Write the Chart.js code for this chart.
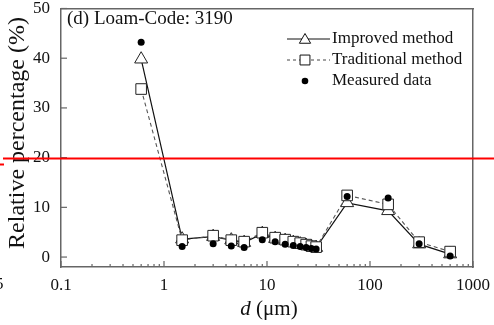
<!DOCTYPE html>
<html>
<head>
<meta charset="utf-8">
<script src="https://cdn.jsdelivr.net/npm/chart.js@4.4.0/dist/chart.umd.min.js"></script>
<style>
  html, body { margin: 0; padding: 0; background: #fff; }
  #wrap { position: relative; width: 494px; height: 325px; }
</style>
</head>
<body>
<div id="wrap"><canvas id="chart" width="494" height="325"></canvas></div>
<script>
// Particle size classes (µm)
const diameters = [0.6, 1.5, 3, 4.5, 6, 9, 12, 15, 18, 21, 24, 27, 30, 60, 150, 300, 600];
// Relative percentage (%)
const improved    = [39.8, 3.6, 4.1, 3.4, 2.9, 4.7, 3.7, 3.3, 2.9, 2.6, 2.3, 2.1, 1.9, 10.9, 9.3, 2.6, 0.6];
const traditional = [33.8, 3.4, 4.3, 3.4, 3.1, 4.9, 3.9, 3.5, 3.1, 2.8, 2.5, 2.2, 2.0, 12.4, 10.6, 3.0, 1.1];
const measured    = [43.2, 2.1, 2.7, 2.2, 1.9, 3.5, 3.1, 2.6, 2.3, 2.1, 1.9, 1.7, 1.6, 12.2, 11.9, 2.7, 0.2];

const yTicks = [0, 10, 20, 30, 40, 50];
const xDecades = [0.1, 1, 10, 100, 1000];
const refLineValue = 20;
const panelTitle = '(d) Loam-Code: 3190';
const legendNames = ['Improved method', 'Traditional method', 'Measured data'];
const yTitle = 'Relative percentage (%)';

const SERIF = '"Liberation Serif", "Times New Roman", serif';
const AXIS_COLOR = '#666666';

// minor + major tick values for the log axis
const xTickValues = [];
xDecades.forEach((dec, i) => {
    if (i === xDecades.length - 1) { xTickValues.push(dec); return; }
    for (let m = 1; m <= 9; m++) xTickValues.push(+(m * dec).toPrecision(3));
});
const isDecade = v => Math.abs(Math.log10(v) - Math.round(Math.log10(v))) < 1e-9;

const pts = arr => diameters.map((d, i) => ({ x: d, y: arr[i] }));

function marker(ctx, style, x, y, r) {
    ctx.beginPath();
    if (style === 'triangle') {
        ctx.moveTo(x, y - r);
        ctx.lineTo(x + r * 0.866, y + r * 0.5);
        ctx.lineTo(x - r * 0.866, y + r * 0.5);
        ctx.closePath();
        ctx.fillStyle = '#fff'; ctx.fill(); ctx.stroke();
    } else if (style === 'rect') {
        const s = r * Math.SQRT1_2;
        ctx.rect(x - s, y - s, 2 * s, 2 * s);
        ctx.fillStyle = '#fff'; ctx.fill(); ctx.stroke();
    } else {
        ctx.arc(x, y, r, 0, Math.PI * 2);
        ctx.fillStyle = '#000'; ctx.fill();
    }
}

// plain frame scale (top / right edges of the box)
function frameScale(position) {
    const horizontal = position === 'top';
    return {
        type: 'linear',
        position: position,
        min: 0,
        max: 1,
        grid: { display: false, drawTicks: false },
        ticks: { display: false },
        border: { display: true, color: AXIS_COLOR, width: 1.5 },
        afterFit(scale) {
            if (horizontal) { scale.height = 0; scale.paddingLeft = 0; scale.paddingRight = 0; }
            else { scale.width = 0; scale.paddingTop = 0; scale.paddingBottom = 0; }
        }
    };
}

const decorations = {
    id: 'decorations',
    afterDraw(chart) {
        const ctx = chart.ctx;
        const xs = chart.scales.x, ys = chart.scales.y;
        const x0 = xs.getPixelForValue(0.1);
        const y0 = ys.getPixelForValue(-2);
        ctx.save();

        // panel title
        ctx.fillStyle = '#111';
        ctx.font = '19px ' + SERIF;
        ctx.textBaseline = 'middle';
        ctx.textAlign = 'left';
        ctx.fillText(panelTitle, 67, 19);

        // inward tick marks
        ctx.fillStyle = AXIS_COLOR;
        xTickValues.forEach(v => {
            const px = xs.getPixelForValue(v);
            const len = isDecade(v) ? 6 : 3;
            ctx.fillRect(px - 0.6, y0 - len, 1.2, len);
        });
        yTicks.forEach(v => {
            const py = ys.getPixelForValue(v);
            ctx.fillRect(x0, py - 0.6, 6, 1.2);
        });

        // legend
        const lx0 = 287, lx1 = 330, mx = 305, tx = 332;
        const rows = [39, 60, 81];
        ctx.strokeStyle = '#111';
        ctx.lineWidth = 1;
        ctx.beginPath(); ctx.moveTo(lx0, rows[0]); ctx.lineTo(lx1, rows[0]); ctx.stroke();
        marker(ctx, 'triangle', mx, rows[0] + 1, 6.5);
        ctx.strokeStyle = '#444';
        ctx.setLineDash([3, 3]);
        ctx.beginPath(); ctx.moveTo(lx0, rows[1]); ctx.lineTo(lx1, rows[1]); ctx.stroke();
        ctx.setLineDash([]);
        ctx.strokeStyle = '#111';
        marker(ctx, 'rect', mx, rows[1], 7);
        marker(ctx, 'circle', mx, rows[2], 3.3);
        ctx.fillStyle = '#111';
        ctx.font = '17px ' + SERIF;
        legendNames.forEach((n, i) => ctx.fillText(n, tx, rows[i]));

        // y axis title
        ctx.save();
        ctx.translate(18, 133);
        ctx.rotate(-Math.PI / 2);
        ctx.textAlign = 'center';
        ctx.font = '24px ' + SERIF;
        ctx.fillText(yTitle, 0, 0);
        ctx.restore();

        // x axis title with italic d
        ctx.font = 'italic 21px ' + SERIF;
        const w1 = ctx.measureText('d').width;
        ctx.font = '21px ' + SERIF;
        const rest = ' (\u03bcm)';
        const w2 = ctx.measureText(rest).width;
        const sx = 269 - (w1 + w2) / 2;
        ctx.textBaseline = 'alphabetic';
        ctx.font = 'italic 21px ' + SERIF;
        ctx.fillText('d', sx, 315);
        ctx.font = '21px ' + SERIF;
        ctx.fillText(rest, sx + w1, 315);

        // cropped glyph at left edge
        ctx.font = '17px ' + SERIF;
        ctx.fillText('5', -5, 289);

        // red reference line
        const ry = Math.round(ys.getPixelForValue(refLineValue)) + 0.5;
        ctx.strokeStyle = '#ff0000';
        ctx.lineWidth = 2;
        ctx.beginPath(); ctx.moveTo(3, ry); ctx.lineTo(494, ry); ctx.stroke();
        ctx.beginPath(); ctx.moveTo(0, ry + 6); ctx.lineTo(4, ry + 6); ctx.stroke();
        ctx.restore();
    }
};

new Chart(document.getElementById('chart').getContext('2d'), {
    type: 'line',
    data: {
        datasets: [
            {
                label: legendNames[2],
                data: pts(measured),
                xAxisID: 'x',
                yAxisID: 'y',
                showLine: false,
                pointStyle: 'circle',
                pointRadius: 3.5,
                pointBackgroundColor: '#000',
                pointBorderColor: '#000',
                pointBorderWidth: 0,
                order: 1
            },
            {
                label: legendNames[1],
                data: pts(traditional),
                xAxisID: 'x',
                yAxisID: 'y',
                borderColor: '#555',
                borderWidth: 1.1,
                borderDash: [4, 3],
                pointStyle: 'rect',
                pointRadius: 7.5,
                pointBackgroundColor: '#fff',
                pointBorderColor: '#222',
                pointBorderWidth: 1,
                tension: 0,
                order: 2
            },
            {
                label: legendNames[0],
                data: pts(improved),
                xAxisID: 'x',
                yAxisID: 'y',
                borderColor: '#111',
                borderWidth: 1.2,
                pointStyle: 'triangle',
                pointRadius: 7.5,
                pointBackgroundColor: '#fff',
                pointBorderColor: '#222',
                pointBorderWidth: 1,
                tension: 0,
                order: 3
            }
        ]
    },
    options: {
        responsive: false,
        animation: false,
        events: [],
        layout: { padding: { top: 6, right: 21, left: 0, bottom: 0 } },
        plugins: { legend: { display: false }, tooltip: { enabled: false } },
        scales: {
            x: {
                type: 'logarithmic',
                position: 'bottom',
                min: 0.1,
                max: 1000,
                afterFit(scale) {
                    scale.height = 58;
                    scale.paddingLeft = 0; scale.paddingRight = 0;
                },
                afterBuildTicks(scale) {
                    scale.ticks = xTickValues.map(v => ({ value: v, major: isDecade(v) }));
                },
                grid: { display: false, drawTicks: false },
                border: { display: true, color: AXIS_COLOR, width: 1.5 },
                ticks: {
                    autoSkip: false,
                    maxRotation: 0,
                    padding: 8,
                    color: '#111',
                    font: { family: SERIF, size: 17 },
                    callback: v => isDecade(v) ? String(v) : ''
                }
            },
            y: {
                position: 'left',
                min: -2,
                max: 50,
                afterFit(scale) {
                    scale.width = 61;
                    scale.paddingTop = 0; scale.paddingBottom = 0;
                },
                afterBuildTicks(scale) {
                    scale.ticks = yTicks.map(v => ({ value: v }));
                },
                grid: { display: false, drawTicks: false },
                border: { display: true, color: AXIS_COLOR, width: 1.5 },
                ticks: {
                    padding: 11,
                    color: '#111',
                    font: { family: SERIF, size: 17 }
                }
            },
            x2: frameScale('top'),
            y2: frameScale('right')
        }
    },
    plugins: [decorations]
});
</script>
</body>
</html>
